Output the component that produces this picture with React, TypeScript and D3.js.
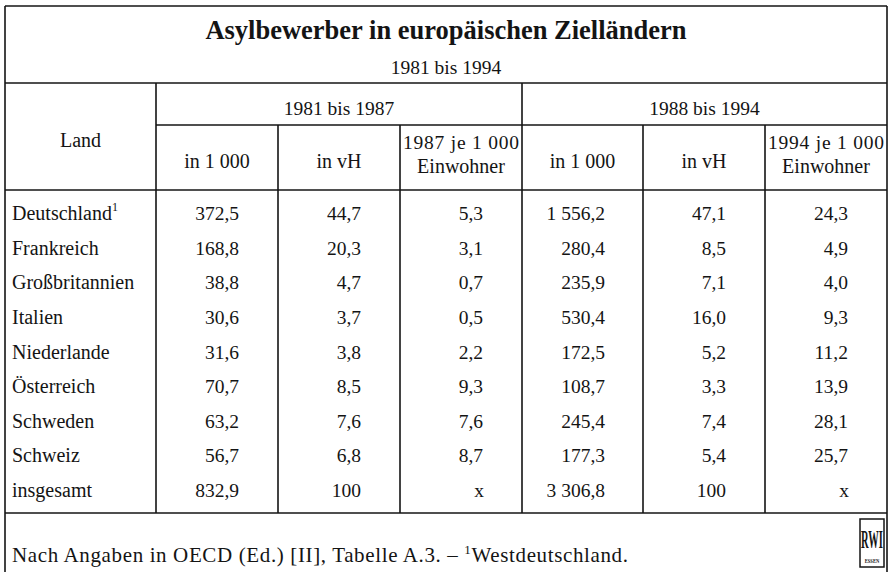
import React from "react";
import * as d3 from "d3";

const title = "Asylbewerber in europäischen Zielländern";
const subtitle = "1981 bis 1994";
const periods = ["1981 bis 1987", "1988 bis 1994"];
const landHeader = "Land";
const subHeaders = [
  ["in 1 000"], ["in vH"], ["1987 je 1 000", "Einwohner"],
  ["in 1 000"], ["in vH"], ["1994 je 1 000", "Einwohner"],
];
const laender = ["Deutschland", "Frankreich", "Großbritannien", "Italien", "Niederlande", "Österreich", "Schweden", "Schweiz"];
const tsd8187 = [372.5, 168.8, 38.8, 30.6, 31.6, 70.7, 63.2, 56.7];
const vh8187 = [44.7, 20.3, 4.7, 3.7, 3.8, 8.5, 7.6, 6.8];
const je1987 = [5.3, 3.1, 0.7, 0.5, 2.2, 9.3, 7.6, 8.7];
const tsd8894 = [1556.2, 280.4, 235.9, 530.4, 172.5, 108.7, 245.4, 177.3];
const vh8894 = [47.1, 8.5, 7.1, 16.0, 5.2, 3.3, 7.4, 5.4];
const je1994 = [24.3, 4.9, 4.0, 9.3, 11.2, 13.9, 28.1, 25.7];
const totalLabel = "insgesamt";
const totalTsd = [832.9, 3306.8];
const totalVh = [100, 100];
const totalJe = [null, null];
const footnote = "Nach Angaben in OECD (Ed.) [II], Tabelle A.3. – ";
const footnoteRef = "1";
const footnoteText = "Westdeutschland.";

const de = d3.formatLocale({ decimal: ",", thousands: " ", grouping: [3], currency: ["", " €"] });
const f1 = de.format(",.1f");
const fInt = de.format("d");

const W = 891, H = 572;
const FONT = "'Liberation Serif', 'Times New Roman', serif";
const INK = "#141414";

export default function App() {
  const colEdges = [5, 156, 278, 400, 522, 643, 765, 887];
  const yRow = d3.scaleLinear().domain([0, 8]).range([220, 497]);
  const left = colEdges[0], right = colEdges[7];
  const top = 6, titleSep = 83, periodSep = 125, headSep = 190, bodyEnd = 513;
  const numOffset = 83;
  const labelSize = 20, numSize = 19.5, headSize = 19.5;

  const cols = [tsd8187, vh8187, je1987, tsd8894, vh8894, je1994];
  const totals = [totalTsd[0], totalVh[0], totalJe[0], totalTsd[1], totalVh[1], totalJe[1]];
  const totalFmt = [f1, fInt, null, f1, fInt, null];

  const lw = 1.6;
  const line = (x1: number, y1: number, x2: number, y2: number, k: string) => (
    <line key={k} x1={x1} y1={y1} x2={x2} y2={y2} stroke={INK} strokeWidth={lw} />
  );

  return (
    <svg width={W} height={H} style={{ position: "absolute", left: 0, top: 0, background: "#fff" }} fontFamily={FONT}>
      <rect x={0} y={0} width={W} height={H} fill="#fff" />
      {line(left, top, right, top, "t")}
      {line(left, top, left, H + 5, "l")}
      {line(right, top, right, H + 5, "r")}
      {line(left, titleSep, right, titleSep, "s1")}
      {line(colEdges[1], periodSep, right, periodSep, "s2")}
      {line(left, headSep, right, headSep, "s3")}
      {line(left, bodyEnd, right, bodyEnd, "s4")}
      {line(colEdges[1], titleSep, colEdges[1], bodyEnd, "c1")}
      {line(colEdges[4], titleSep, colEdges[4], bodyEnd, "c4")}
      {[2, 3, 5, 6].map((i) => line(colEdges[i], periodSep, colEdges[i], bodyEnd, "c" + i))}

      <text x={(left + right) / 2} y={39} textAnchor="middle" fontSize={26.5} fontWeight="bold" fill={INK}>{title}</text>
      <text x={(left + right) / 2} y={74} textAnchor="middle" fontSize={headSize} fill={INK}>{subtitle}</text>

      <text x={(colEdges[1] + colEdges[4]) / 2} y={115} textAnchor="middle" fontSize={headSize} fill={INK}>{periods[0]}</text>
      <text x={(colEdges[4] + colEdges[7]) / 2} y={115} textAnchor="middle" fontSize={headSize} fill={INK}>{periods[1]}</text>
      <text x={(colEdges[0] + colEdges[1]) / 2} y={147} textAnchor="middle" fontSize={labelSize} fill={INK}>{landHeader}</text>

      {subHeaders.map((lines, i) => {
        const cx = (colEdges[i + 1] + colEdges[i + 2]) / 2;
        if (lines.length === 1) {
          return <text key={"h" + i} x={cx} y={168} textAnchor="middle" fontSize={labelSize} fill={INK}>{lines[0]}</text>;
        }
        return (
          <g key={"h" + i}>
            <text x={cx} y={149} textAnchor="middle" fontSize={headSize} fill={INK} textLength={116} lengthAdjust="spacing">{lines[0]}</text>
            <text x={cx} y={173} textAnchor="middle" fontSize={labelSize} fill={INK}>{lines[1]}</text>
          </g>
        );
      })}

      {laender.map((name, r) => (
        <g key={name}>
          <text x={12} y={yRow(r)} fontSize={labelSize} fill={INK}>
            {name}
            {r === 0 && <tspan fontSize={12} dy={-9}>{footnoteRef}</tspan>}
          </text>
          {cols.map((col, c) => (
            <text key={c} x={colEdges[c + 1] + numOffset} y={yRow(r)} textAnchor="end" fontSize={numSize} fill={INK}>
              {f1(col[r])}
            </text>
          ))}
        </g>
      ))}
      <text x={12} y={yRow(8)} fontSize={labelSize} fill={INK}>{totalLabel}</text>
      {totals.map((v, c) => (
        <text key={"tot" + c} x={colEdges[c + 1] + numOffset + (v === null ? 1 : 0)} y={yRow(8)} textAnchor="end" fontSize={numSize} fill={INK}>
          {v === null ? "x" : totalFmt[c]!(v)}
        </text>
      ))}

      <text x={12} y={562} fontSize={21} fill={INK} textLength={616} lengthAdjust="spacing">
        {footnote}
        <tspan fontSize={13} dy={-8}>{footnoteRef}</tspan>
        <tspan dy={8}>{footnoteText}</tspan>
      </text>

      <g>
        <rect x={860} y={519} width={24} height={48} fill="#fff" stroke={INK} strokeWidth={1.5} />
        <text transform="translate(872,548) scale(0.42,1)" textAnchor="middle" fontSize={25} fontWeight="bold" fill={INK}>RWI</text>
        <text transform="translate(872,563) scale(0.7,1)" textAnchor="middle" fontSize={6.5} fontWeight="bold" fill={INK}>ESSEN</text>
      </g>
    </svg>
  );
}
